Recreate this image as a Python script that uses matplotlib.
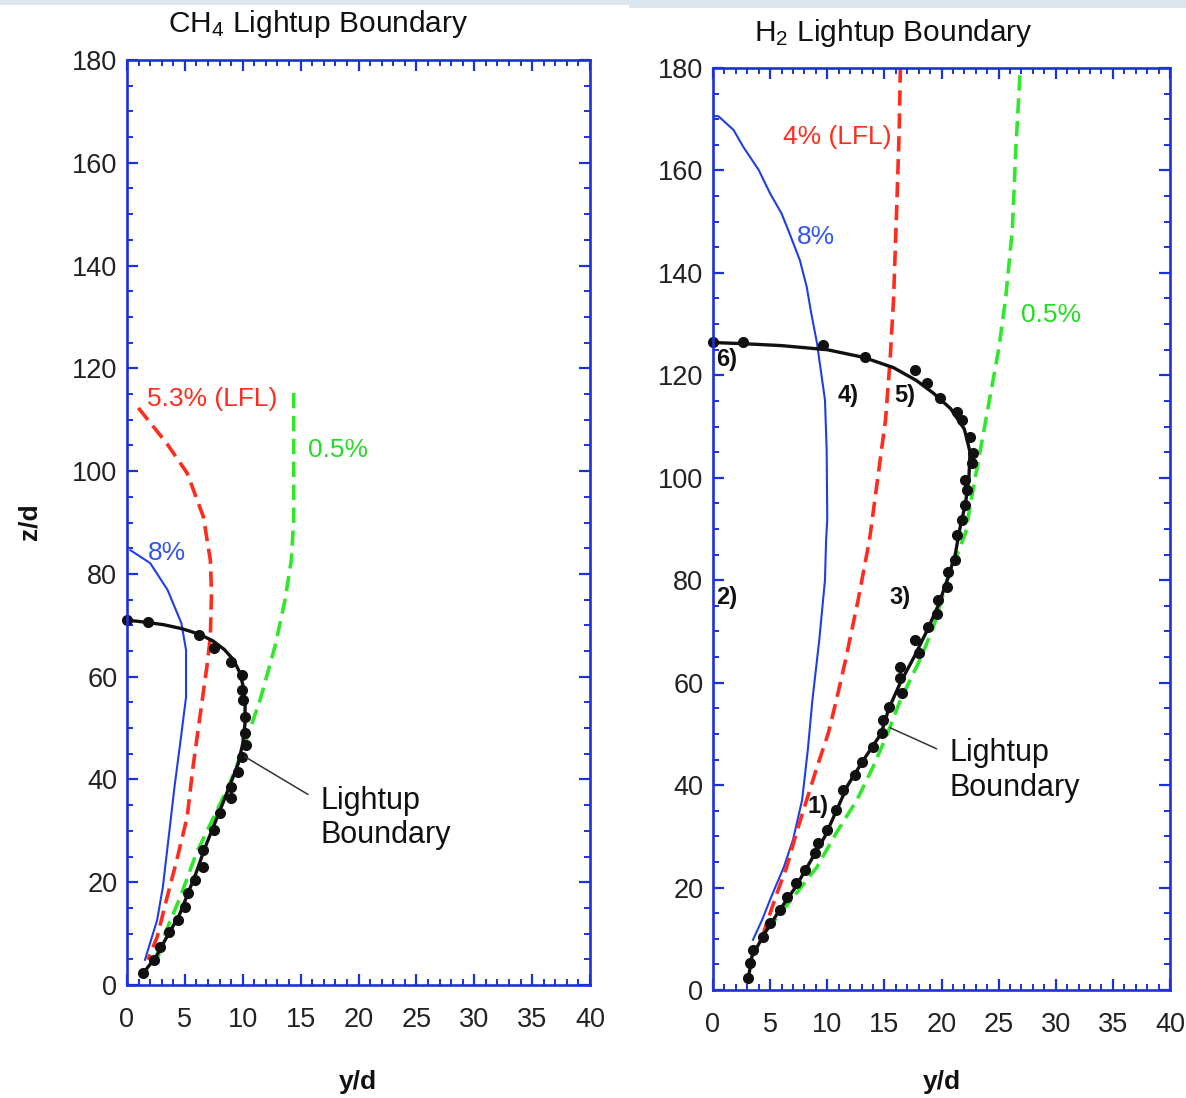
import matplotlib
matplotlib.use("Agg")
import matplotlib.pyplot as plt
from matplotlib.ticker import MultipleLocator
from matplotlib.patches import Rectangle

plt.rcParams["font.family"] = ["Liberation Sans", "DejaVu Sans"]
plt.rcParams["mathtext.default"] = "regular"
plt.rcParams["lines.scale_dashes"] = False

# ---- CH4 panel ----
ch4_8_x = [0.3, 2.0, 3.5, 4.7, 5.1, 5.1, 4.6, 4.1, 3.7, 3.1, 2.6, 1.55]
ch4_8_y = [84.6, 82.1, 76.9, 70.4, 65.2, 56.0, 47.1, 38.5, 30.7, 19.1, 12.6, 4.9]
ch4_lfl_x = [0.98, 3.4, 5.2, 6.6, 7.2, 7.3, 7.2, 6.9, 6.3, 5.7, 5.2, 4.3, 3.4, 2.6, 1.8]
ch4_lfl_y = [112.3, 105.5, 99.6, 91.1, 82.7, 76.3, 67.7, 61.9, 52.2, 42.4, 32.7, 24.3, 16.5, 9.3, 4.9]
ch4_05_x = [14.4, 14.4, 14.2, 13.65, 12.8, 11.5, 10.0, 8.9, 7.5, 6.0, 4.6, 3.3, 2.6]
ch4_05_y = [115.2, 90.5, 82.7, 74.9, 66.0, 55.5, 45.7, 39.3, 32.7, 25.7, 17.1, 10.1, 4.9]
ch4_lb_x = [1.4, 2.5, 3.6, 4.5, 5.3, 6.0, 6.7, 7.5, 8.3, 9.0, 9.6, 10.0, 10.2, 10.2,
            10.0, 9.7, 9.2, 8.4, 7.4, 6.2, 4.8, 3.2, 1.6, 0.0]
ch4_lb_y = [2.3, 5.5, 10.0, 13.5, 18.0, 22.0, 26.5, 31.0, 35.5, 39.5, 43.0, 47.0, 51.0, 55.0,
            58.5, 61.0, 63.3, 65.3, 67.0, 68.3, 69.3, 70.1, 70.6, 71.0]
ch4_pts_x = [1.4, 2.3, 2.85, 3.6, 4.4, 5.0, 5.3, 5.9, 6.6, 6.6, 7.5, 8.0, 9.0, 9.0, 9.6, 9.9,
             10.3, 10.2, 10.2, 10.0, 9.9, 9.9, 9.0, 7.5, 6.2, 1.85, 0.0]
ch4_pts_y = [2.3, 4.9, 7.4, 10.3, 12.6, 15.2, 17.9, 20.4, 23.0, 26.3, 30.2, 33.5, 36.4, 38.5, 41.5, 44.4,
             46.7, 49.0, 52.2, 55.5, 57.4, 60.3, 62.9, 65.5, 68.1, 70.7, 71.0]

# ---- H2 panel ----
h2_8_x = [0.0, 0.47, 1.8, 2.65, 4.0, 5.0, 6.0, 6.7, 7.6, 8.2, 8.6, 9.1, 9.8, 9.95, 10.0, 9.9,
          9.8, 9.3, 8.7, 8.3, 7.8, 7.0, 6.2, 5.1, 4.3, 3.5]
h2_8_y = [170.6, 170.6, 167.9, 164.6, 160.1, 155.5, 151.6, 147.7, 142.5, 137.3, 132.1, 126.3, 115.2,
          105.4, 91.8, 87.9, 80.0, 68.3, 56.6, 46.9, 37.1, 29.3, 24.0, 18.2, 13.7, 9.8]
h2_lfl_x = [4.3, 4.8, 5.6, 6.45, 7.3, 8.2, 9.1, 10.1, 10.8, 11.6, 12.7, 13.7, 14.4, 15.1, 15.5,
            15.8, 16.1, 16.3, 16.4]
h2_lfl_y = [10.3, 13.7, 18.9, 24.0, 30.7, 37.1, 43.5, 50.2, 56.6, 64.4, 76.1, 87.9, 99.6, 111.3, 123.0,
            134.7, 154.0, 168.0, 180.0]
h2_05_x = [4.7, 5.9, 7.3, 9.1, 10.8, 12.6, 14.0, 15.3, 16.4, 18.1, 19.3, 20.5, 22.1, 22.6, 23.4,
           24.2, 25.0, 25.6, 26.2, 26.5, 26.9]
h2_05_y = [11.7, 15.0, 18.9, 24.0, 30.7, 37.1, 43.5, 50.2, 56.6, 64.4, 70.9, 80.0, 89.2, 95.7, 105.4,
           115.2, 125.0, 134.7, 148.4, 164.0, 180.0]
h2_lb_x = [3.1, 3.4, 4.5, 5.8, 7.2, 8.5, 9.8, 10.8, 11.8, 13.2, 14.7, 15.4, 16.4, 17.6, 18.7, 19.7,
           20.5, 21.2, 21.6, 22.1, 22.4, 22.5, 22.0, 20.8, 19.3, 17.8, 15.8, 13.2, 10.0, 6.0, 2.5, 0.0]
h2_lb_y = [2.3, 6.5, 11.0, 15.5, 20.0, 25.0, 30.0, 35.0, 40.0, 45.0, 50.0, 55.0, 60.0, 65.0, 70.0, 75.0,
           80.0, 85.0, 90.0, 95.0, 100.0, 105.0, 109.5, 113.5, 116.5, 119.0, 121.5, 123.5, 125.0, 125.8,
           126.2, 126.4]
h2_pts_x = [3.1, 3.2, 3.5, 4.4, 5.0, 5.9, 6.45, 7.3, 8.05, 8.9, 9.2, 9.95, 10.8, 11.4, 12.4, 13.0,
            14.0, 14.8, 14.9, 15.4, 16.5, 16.4, 16.4, 18.0, 17.7, 18.8, 19.6, 19.7, 20.5, 20.6, 21.2,
            21.4, 21.8, 22.1, 22.2, 22.1, 22.7, 22.8, 22.5, 21.8, 21.4, 19.9, 18.7, 17.7, 13.3, 9.65,
            2.65, 0.0]
h2_pts_y = [2.3, 5.3, 7.8, 10.3, 13.1, 15.6, 18.2, 20.9, 23.4, 26.7, 28.7, 31.2, 35.1, 39.0, 42.0, 44.5,
            47.4, 50.2, 52.7, 55.3, 57.9, 60.9, 63.1, 65.7, 68.3, 70.9, 73.5, 76.1, 78.7, 81.7, 84.0,
            88.8, 91.8, 94.7, 97.6, 99.6, 102.9, 104.8, 108.0, 111.3, 112.8, 115.6, 118.5, 121.0, 123.6,
            125.9, 126.5, 126.5]

h2_tags = ["1)", "2)", "3)", "4)", "5)", "6)"]
h2_tag_x = [9.2, 1.2, 16.4, 11.8, 16.8, 1.2]
h2_tag_y = [35.9, 76.7, 76.7, 116.0, 116.0, 123.0]

FRAME = "#1c30dc"
BLUE = "#1f3fe6"
RED = "#ff2b1c"
GREEN = "#2fe82a"
TXT = "#222222"

fig = plt.figure(figsize=(11.86, 10.98), dpi=100)
fig.add_artist(Rectangle((0, 1 - 5 / 1098), 629 / 1186, 5 / 1098, transform=fig.transFigure,
                         color="#dbe6ef", lw=0))
fig.add_artist(Rectangle((629 / 1186, 1 - 8 / 1098), 1 - 629 / 1186, 8 / 1098,
                         transform=fig.transFigure, color="#dbe6ef", lw=0))

ax1 = fig.add_axes([127 / 1186, 1 - 985 / 1098, 463 / 1186, 925 / 1098])
ax2 = fig.add_axes([713 / 1186, 1 - 990 / 1098, 457 / 1186, 922 / 1098])


def style(ax):
    ax.set_xlim(0, 40)
    ax.set_ylim(0, 180)
    ax.xaxis.set_major_locator(MultipleLocator(5))
    ax.xaxis.set_minor_locator(MultipleLocator(1))
    ax.yaxis.set_major_locator(MultipleLocator(20))
    ax.yaxis.set_minor_locator(MultipleLocator(5))
    for s in ax.spines.values():
        s.set_color(FRAME)
        s.set_linewidth(1.9)
    ax.tick_params(which="both", direction="in", top=True, right=True, color=FRAME,
                   labelcolor=TXT, labelsize=19.5)
    ax.tick_params(which="major", length=8, width=1.6)
    ax.tick_params(which="minor", length=4, width=1.4)
    ax.tick_params(axis="x", pad=16)
    ax.tick_params(axis="y", pad=7)


dash = dict(ls=(0, (11, 5.5)), lw=2.6)

style(ax1)
ax1.plot(ch4_8_x, ch4_8_y, color=BLUE, lw=1.5)
ax1.plot(ch4_lfl_x, ch4_lfl_y, color=RED, **dash)
ax1.plot(ch4_05_x, ch4_05_y, color=GREEN, **dash)
ax1.plot(ch4_lb_x, ch4_lb_y, color="#111111", lw=2.4)
ax1.plot(ch4_pts_x, ch4_pts_y, "o", color="#111111", ms=7, clip_on=False)
ax1.text(1.73, 114.0, "5.3% (LFL)", color=RED, fontsize=19, va="center")
ax1.text(1.8, 84.1, "8%", color="#3355ee", fontsize=19, va="center")
ax1.text(15.6, 104.1, "0.5%", color="#22dd22", fontsize=19, va="center")
ax1.annotate("Lightup\nBoundary", xy=(10.2, 44.4), xytext=(16.7, 32.5), fontsize=22,
             color="#111111", va="center", ha="left",
             arrowprops=dict(arrowstyle="-", color="#333333", lw=1.1, shrinkA=8, shrinkB=0,
                             relpos=(0, 0.75)))

style(ax2)
ax2.plot(h2_8_x, h2_8_y, color=BLUE, lw=1.5)
ax2.plot(h2_lfl_x, h2_lfl_y, color=RED, **dash)
ax2.plot(h2_05_x, h2_05_y, color=GREEN, **dash)
ax2.plot(h2_lb_x, h2_lb_y, color="#111111", lw=2.4)
ax2.plot(h2_pts_x, h2_pts_y, "o", color="#111111", ms=7, clip_on=False)
ax2.text(6.1, 166.5, "4% (LFL)", color=RED, fontsize=19, va="center")
ax2.text(7.35, 147.0, "8%", color="#3355ee", fontsize=19, va="center")
ax2.text(27.0, 131.8, "0.5%", color="#22dd22", fontsize=19, va="center")
for t, x, y in zip(h2_tags, h2_tag_x, h2_tag_y):
    ax2.text(x, y, t, fontsize=17, fontweight="bold", color="#111111", ha="center", va="center")
ax2.annotate("Lightup\nBoundary", xy=(15.5, 51.2), xytext=(20.7, 42.8), fontsize=22,
             color="#111111", va="center", ha="left",
             arrowprops=dict(arrowstyle="-", color="#333333", lw=1.1, shrinkA=8, shrinkB=0,
                             relpos=(0, 0.75)))

fig.text(318 / 1186, 1 - 24 / 1098, "CH$_4$ Lightup Boundary", fontsize=21.5, color="#111111",
         ha="center", va="center")
fig.text(893 / 1186, 1 - 33 / 1098, "H$_2$ Lightup Boundary", fontsize=21.5, color="#111111",
         ha="center", va="center")
fig.text(30 / 1186, 1 - 522 / 1098, "z/d", fontsize=19, fontweight="bold", rotation=90,
         ha="center", va="center", color="#111111")
fig.text(358 / 1186, 1 - 1082 / 1098, "y/d", fontsize=19, fontweight="bold",
         ha="center", va="center", color="#111111")
fig.text(942 / 1186, 1 - 1082 / 1098, "y/d", fontsize=19, fontweight="bold",
         ha="center", va="center", color="#111111")

fig.savefig("out.png", dpi=100)
